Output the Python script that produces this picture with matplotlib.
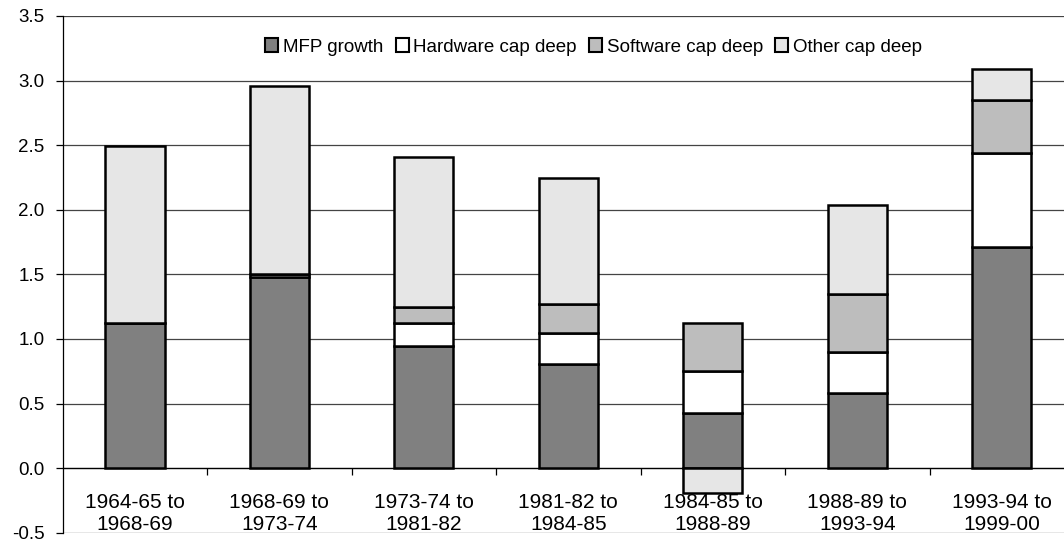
import numpy as np
import matplotlib
matplotlib.use("Agg")
import matplotlib.pyplot as plt

plt.rcParams["font.family"] = ["Liberation Sans", "DejaVu Sans"]

periods = ["1964-65 to\n1968-69", "1968-69 to\n1973-74", "1973-74 to\n1981-82",
           "1981-82 to\n1984-85", "1984-85 to\n1988-89", "1988-89 to\n1993-94",
           "1993-94 to\n1999-00"]
mfp = [1.12, 1.48, 0.945, 0.81, 0.43, 0.58, 1.71]
hardware = [0.0, 0.02, 0.175, 0.24, 0.325, 0.32, 0.73]
software = [0.0, 0.0, 0.125, 0.22, 0.37, 0.45, 0.41]
other = [1.37, 1.46, 1.165, 0.98, -0.19, 0.685, 0.24]

series = [("MFP growth", mfp, "#808080"),
          ("Hardware cap deep", hardware, "#ffffff"),
          ("Software cap deep", software, "#bdbdbd"),
          ("Other cap deep", other, "#e6e6e6")]

fig = plt.figure(figsize=(10.64, 5.42), dpi=100)
ax = fig.add_axes([62.7 / 1064, 1 - 532.8 / 542, (1074 - 62.7) / 1064, (532.8 - 16) / 542])

x = np.arange(len(periods))
pos_base = np.zeros(len(periods))
neg_base = np.zeros(len(periods))
for name, vals, col in series:
    vals = np.array(vals)
    base = np.where(vals >= 0, pos_base, neg_base)
    ax.bar(x, vals, 0.41, bottom=base, color=col, edgecolor="black",
           linewidth=1.8, label=name, zorder=3)
    pos_base += np.where(vals >= 0, vals, 0)
    neg_base += np.where(vals < 0, vals, 0)

ax.set_xlim(-0.5, len(periods) - 0.5)
ax.set_ylim(-0.5, 3.5)
yt = np.arange(-0.5, 3.51, 0.5)
ax.set_yticks(yt)
ax.set_yticklabels(["%.1f" % v for v in yt])
ax.yaxis.grid(True, color="#444444", linewidth=0.9, zorder=0)
ax.set_axisbelow(True)
ax.tick_params(axis="y", direction="out", length=5, width=0.9, labelsize=13.5, pad=8)

for s in ["top", "right"]:
    ax.spines[s].set_visible(False)
ax.spines["left"].set_linewidth(0.9)
ax.spines["bottom"].set_position(("data", 0))
ax.spines["bottom"].set_linewidth(0.9)
ax.set_xticks(np.arange(0.5, len(periods) - 0.5, 1))
ax.set_xticklabels([])
ax.tick_params(axis="x", direction="out", length=5, width=0.9)

for i, lab in enumerate(periods):
    ax.text(i, -0.35, lab, ha="center", va="center", fontsize=15,
            linespacing=1.15, zorder=1)

leg = ax.legend(loc="center", bbox_to_anchor=(0.525, 0.94), ncol=4, frameon=False,
                fontsize=13.5, handlelength=0.7, handleheight=0.7,
                handletextpad=0.25, columnspacing=0.65, borderaxespad=0)
for h in leg.legend_handles:
    h.set_linewidth(1.5)

fig.savefig("out.png", dpi=100)
